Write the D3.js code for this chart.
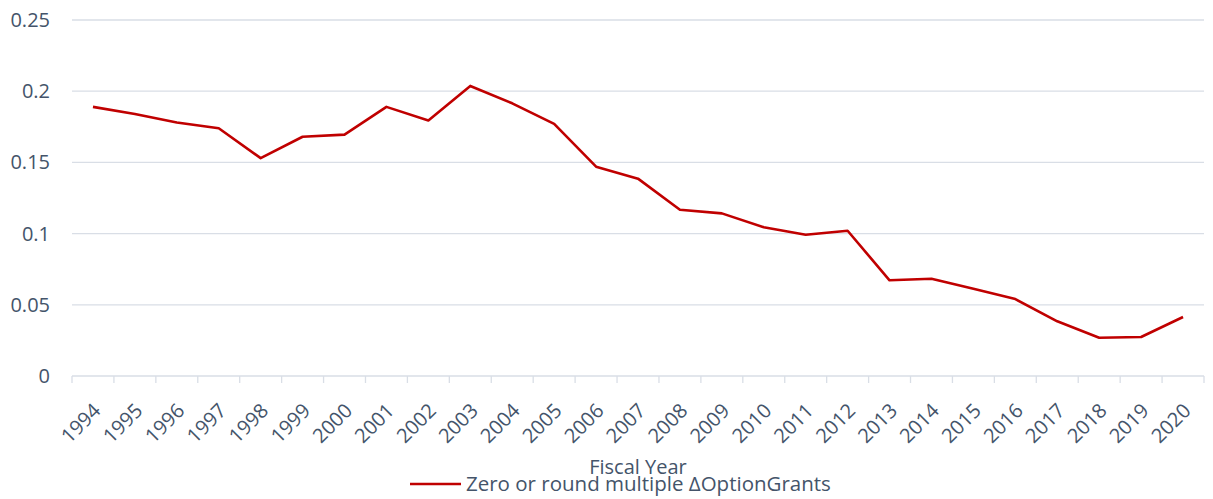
<!DOCTYPE html>
<html>
<head>
<meta charset="utf-8">
<script src="https://cdn.jsdelivr.net/npm/d3@7"></script>
<style>
  body { margin: 0; background: #fff; }
  text { font-family: "Open Sans", "Noto Sans", sans-serif; fill: #44546a; }
</style>
</head>
<body>
<div class="vis-line"></div>
<script>
const years = ["1994","1995","1996","1997","1998","1999","2000","2001","2002","2003","2004","2005","2006","2007","2008","2009","2010","2011","2012","2013","2014","2015","2016","2017","2018","2019","2020"];
const zeroRound = [0.189,0.184,0.178,0.174,0.153,0.168,0.1695,0.189,0.1795,0.2037,0.1915,0.177,0.147,0.1386,0.1168,0.1142,0.1044,0.0992,0.102,0.0672,0.0683,0.0612,0.054,0.0384,0.0269,0.0274,0.0414];
const yTicks = [0, 0.05, 0.1, 0.15, 0.2, 0.25];
const seriesName = "Zero or round multiple ΔOptionGrants";
const xTitle = "Fiscal Year";

const draw = () => {
    const W = 1213, H = 499;
    const margin = { top: 20, right: 9, bottom: 123, left: 72 };
    const width = W - margin.left - margin.right;
    const height = H - margin.top - margin.bottom;

    const svg = d3.select('.vis-line').append('svg')
        .attr('width', W)
        .attr('height', H)
        .append("g")
        .attr("transform", "translate(" + margin.left + "," + margin.top + ")");

    const x = d3.scaleBand().domain(years).range([0, width]);
    const y = d3.scaleLinear().domain([0, 0.25]).range([height, 0]);

    // gridlines
    svg.selectAll(".grid")
        .data(yTicks.filter(d => d > 0))
        .enter().append("line")
        .attr("x1", 0).attr("x2", width)
        .attr("y1", d => y(d)).attr("y2", d => y(d))
        .attr("stroke", "#d9dee6")
        .attr("stroke-width", 1.3);

    // y labels
    svg.selectAll(".ylab")
        .data(yTicks)
        .enter().append("text")
        .attr("x", -22)
        .attr("y", d => y(d))
        .attr("dy", "0.35em")
        .attr("text-anchor", "end")
        .style("font-size", "20px")
        .text(d => d === 0 ? "0" : String(d));

    // x axis
    const xAxis = svg.append("g")
        .attr("transform", "translate(0," + height + ")");
    xAxis.append("line")
        .attr("x1", 0).attr("x2", width)
        .attr("stroke", "#d9dee6").attr("stroke-width", 1.3);
    const bounds = years.map(d => x(d)).concat([width]);
    xAxis.selectAll(".tick")
        .data(bounds)
        .enter().append("line")
        .attr("x1", d => d).attr("x2", d => d)
        .attr("y1", 0).attr("y2", 7)
        .attr("stroke", "#d9dee6").attr("stroke-width", 1.3);
    xAxis.selectAll(".xlab")
        .data(years)
        .enter().append("text")
        .attr("text-anchor", "end")
        .attr("transform", d => "translate(" + (x(d) + x.bandwidth() / 2 + 4) + ",31) rotate(-45)")
        .attr("dy", "0.35em")
        .style("font-size", "20px")
        .text(d => d);

    // line
    const line = d3.line()
        .x((d, i) => x(years[i]) + x.bandwidth() / 2)
        .y(d => y(d));
    svg.append("path")
        .datum(zeroRound)
        .attr("fill", "none")
        .attr("stroke", "#c00000")
        .attr("stroke-width", 2.6)
        .attr("stroke-linejoin", "round")
        .attr("d", line);

    // axis title
    svg.append("text")
        .attr("text-anchor", "middle")
        .attr("x", width / 2)
        .attr("y", 474 - margin.top)
        .style("font-size", "20px")
        .text(xTitle);

    // legend
    const leg = svg.append("g").attr("transform", "translate(" + (410 - margin.left) + "," + (484 - margin.top) + ")");
    leg.append("line")
        .attr("x1", 0).attr("x2", 51)
        .attr("stroke", "#c00000").attr("stroke-width", 2.5);
    leg.append("text")
        .attr("x", 56)
        .attr("dy", "0.33em")
        .style("font-size", "20.5px")
        .text(seriesName);
};

draw();
</script>
</body>
</html>
